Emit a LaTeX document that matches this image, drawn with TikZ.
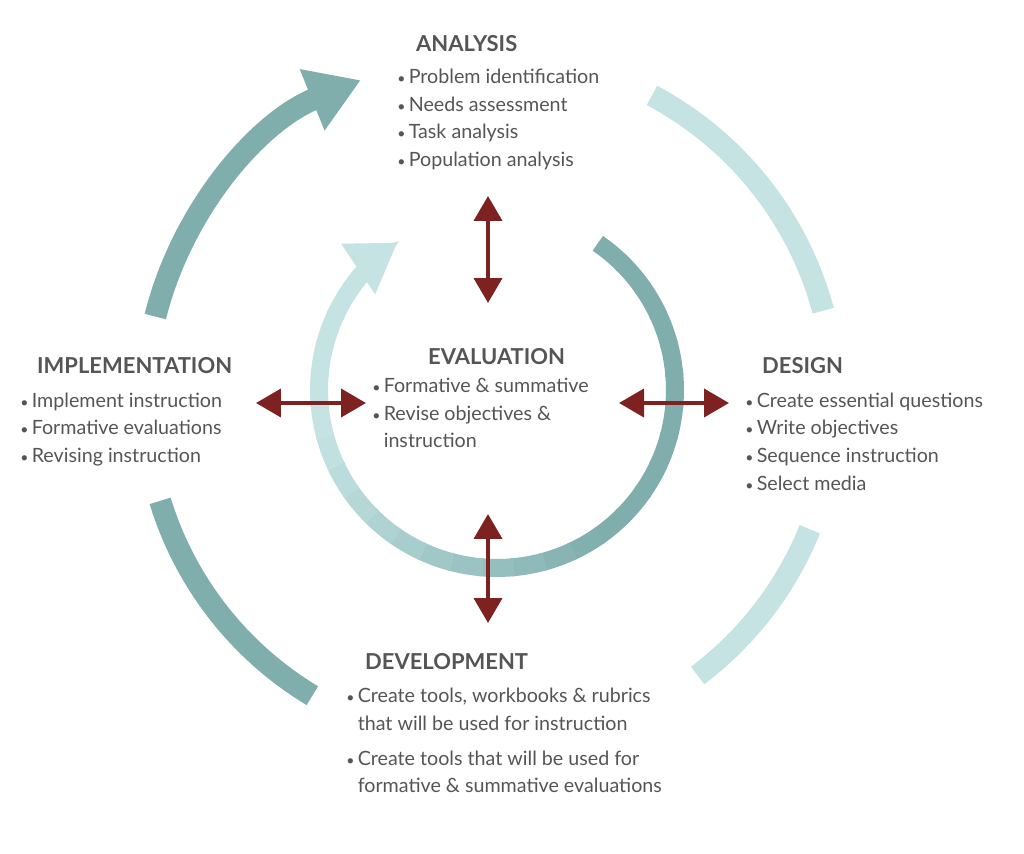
\documentclass[tikz,border=0pt]{standalone}
\usepackage{fontspec}
\setmainfont{Lato}
\usetikzlibrary{arrows.meta}
\definecolor{tealdark}{HTML}{7FAEAD}
\definecolor{teallight}{HTML}{C5E3E3}
\definecolor{wine}{HTML}{7E2121}
\definecolor{txtgray}{HTML}{555555}
\newcommand{\itm}{{\footnotesize\textbullet}\,}
\newcommand{\ind}{\phantom{\itm}}

\begin{document}
\begin{tikzpicture}[x=0.02cm, y=0.02cm,
    title/.style={anchor=west, text=txtgray, font=\fontsize{12.5}{15}\selectfont\bfseries},
    items/.style={anchor=west, align=left, text=txtgray, inner sep=0pt, font=\fontsize{11.2}{15.8}\selectfont},
    ring/.style={line width=0.44cm},
    link/.style={wine, line width=0.08cm, {Triangle[width=0.56cm,length=0.5cm]}-{Triangle[width=0.56cm,length=0.5cm]}}]
            \useasboundingbox (0,0) rectangle (1024,853);
            % outer cycle
            \coordinate (oc) at (490,453);
            \draw[ring, tealdark, -{Triangle[width=1.25cm,length=1.05cm]}] ([shift={(166:6.9cm)}]oc) arc (166:112:6.9cm);
            \draw[ring, teallight] ([shift={(62:6.9cm)}]oc) arc (62:15:6.9cm);
            \draw[ring, teallight] ([shift={(-22:6.9cm)}]oc) arc (-22:-53:6.9cm);
            \draw[ring, tealdark] ([shift={(-163:6.9cm)}]oc) arc (-163:-121:6.9cm);
            % inner cycle, shaded from dark to light
            \coordinate (ic) at (497,463);
            \foreach \a in {55,45,...,-215} {
                \pgfmathsetmacro\mix{int(min(100,max(0,(-50-\a)/1.1)))}
                \colorlet{segc}{teallight!\mix!tealdark}
                \draw[line width=0.36cm, segc] ([shift={(\a+0.5:3.56cm)}]ic) arc (\a+0.5:\a-10.5:3.56cm);
            }
            \draw[line width=0.36cm, teallight, -{Triangle[width=1.15cm,length=0.95cm]}] ([shift={(-225:3.56cm)}]ic) arc (-225:-236:3.56cm);
            % phases
            \node[title] (ana) at (410,809) {ANALYSIS};
            \node[items] (anaList) at (397,733.5) {\itm Problem identification\\ \itm Needs assessment\\ \itm Task analysis\\ \itm Population analysis};
            \node[title] (imp) at (31,487) {IMPLEMENTATION};
            \node[items] (impList) at (20,423.5) {\itm Implement instruction\\ \itm Formative evaluations\\ \itm Revising instruction};
            \node[title] (eva) at (422,496) {EVALUATION};
            \node[items] (evaList) at (372,440) {\itm Formative \& summative\\ \itm Revise objectives \&\\ \ind instruction};
            \node[title] (des) at (756,487) {DESIGN};
            \node[items] (desList) at (745,411.5) {\itm Create essential questions\\ \itm Write objectives\\ \itm Sequence instruction\\ \itm Select media};
            \node[title] (dev) at (359,191) {DEVELOPMENT};
            \node[items] (devList) at (346,112.5) {\itm Create tools, workbooks \& rubrics\\ \ind that will be used for instruction\\[4pt] \itm Create tools that will be used for\\ \ind formative \& summative evaluations};
            % links to evaluation
            \coordinate (t1) at (488,657); \coordinate (t2) at (488,550);
            \coordinate (b1) at (488,339); \coordinate (b2) at (488,230);
            \coordinate (l1) at (256,450); \coordinate (l2) at (366,450);
            \coordinate (r1) at (619,450); \coordinate (r2) at (729,450);
            \draw[link] (t1) -- (t2);
            \draw[link] (b1) -- (b2);
            \draw[link] (l1) -- (l2);
            \draw[link] (r1) -- (r2);
\end{tikzpicture}
\end{document}
